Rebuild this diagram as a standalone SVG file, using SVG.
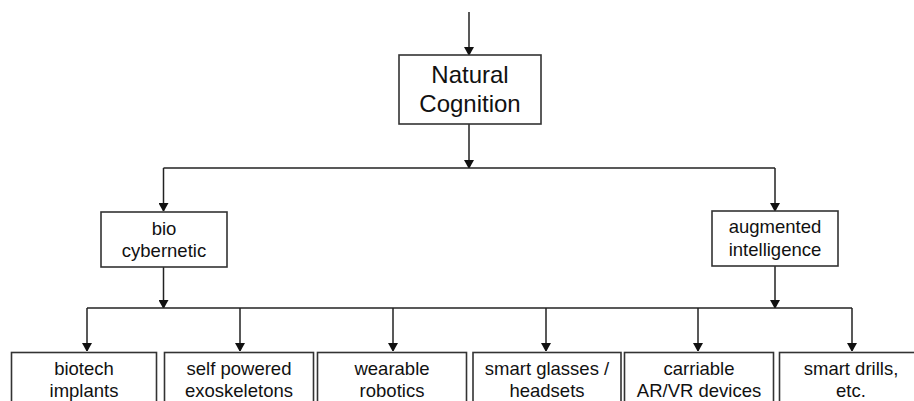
<svg xmlns="http://www.w3.org/2000/svg" width="914" height="401" viewBox="0 0 914 401">
<style>
.box{fill:#fff;stroke:#333;stroke-width:1.6}
.ln{fill:none;stroke:#222;stroke-width:1.5}
text{font-family:"Liberation Sans",Arial,sans-serif;fill:#111;text-anchor:middle}
.big{font-size:24px}
.mid{font-size:18.5px}
</style>
<defs>
<marker id="ah" markerWidth="8" markerHeight="10" refX="8" refY="5" orient="auto" markerUnits="userSpaceOnUse">
<path d="M0,0 L9,5 L0,10 z" fill="#111"/>
</marker>
</defs>
<rect width="914" height="401" fill="#fff"/>
<g id="connectors">
<path class="ln" d="M469,12 V55" marker-end="url(#ah)"/>
<path class="ln" d="M469,124 V168" marker-end="url(#ah)"/>
<path class="ln" d="M163.5,168 H775"/>
<path class="ln" d="M163.5,168 V211" marker-end="url(#ah)"/>
<path class="ln" d="M775,168 V211" marker-end="url(#ah)"/>
<path class="ln" d="M163.5,267 V308" marker-end="url(#ah)"/>
<path class="ln" d="M775,266 V308" marker-end="url(#ah)"/>
<path class="ln" d="M87,308 H852"/>
<path class="ln" d="M87,308 V351" marker-end="url(#ah)"/>
<path class="ln" d="M240,308 V351" marker-end="url(#ah)"/>
<path class="ln" d="M393,308 V351" marker-end="url(#ah)"/>
<path class="ln" d="M546,308 V351" marker-end="url(#ah)"/>
<path class="ln" d="M698,308 V351" marker-end="url(#ah)"/>
<path class="ln" d="M852,308 V351" marker-end="url(#ah)"/>
</g>
<g id="natural-cognition">
<rect class="box" x="399" y="55" width="142" height="69"/>
<text class="big" x="470" y="83">Natural</text>
<text class="big" x="470" y="112">Cognition</text>
</g>
<g id="bio-cybernetic">
<rect class="box" x="101" y="212" width="126" height="55"/>
<text class="mid" x="164" y="235">bio</text>
<text class="mid" x="164" y="257">cybernetic</text>
</g>
<g id="augmented-intelligence">
<rect class="box" x="712" y="211" width="126" height="55"/>
<text class="mid" x="775" y="233">augmented</text>
<text class="mid" x="775" y="256">intelligence</text>
</g>
<g id="biotech-implants">
<rect class="box" x="11.5" y="352.5" width="145" height="60"/>
<text class="mid" x="84" y="375">biotech</text>
<text class="mid" x="84" y="397">implants</text>
</g>
<g id="self-powered-exoskeletons">
<rect class="box" x="164.5" y="352.5" width="149" height="60"/>
<text class="mid" x="239" y="375">self powered</text>
<text class="mid" x="239" y="397">exoskeletons</text>
</g>
<g id="wearable-robotics">
<rect class="box" x="317.5" y="352.5" width="149" height="60"/>
<text class="mid" x="392" y="375">wearable</text>
<text class="mid" x="392" y="397">robotics</text>
</g>
<g id="smart-glasses-headsets">
<rect class="box" x="473" y="352.5" width="148" height="60"/>
<text class="mid" x="547" y="375">smart glasses /</text>
<text class="mid" x="547" y="397">headsets</text>
</g>
<g id="carriable-ar-vr-devices">
<rect class="box" x="624.5" y="352.5" width="149" height="60"/>
<text class="mid" x="699" y="375">carriable</text>
<text class="mid" x="699" y="397">AR/VR devices</text>
</g>
<g id="smart-drills-etc">
<rect class="box" x="779.5" y="352.5" width="145" height="60"/>
<text class="mid" x="851" y="375">smart drills,</text>
<text class="mid" x="851" y="397">etc.</text>
</g>
</svg>
